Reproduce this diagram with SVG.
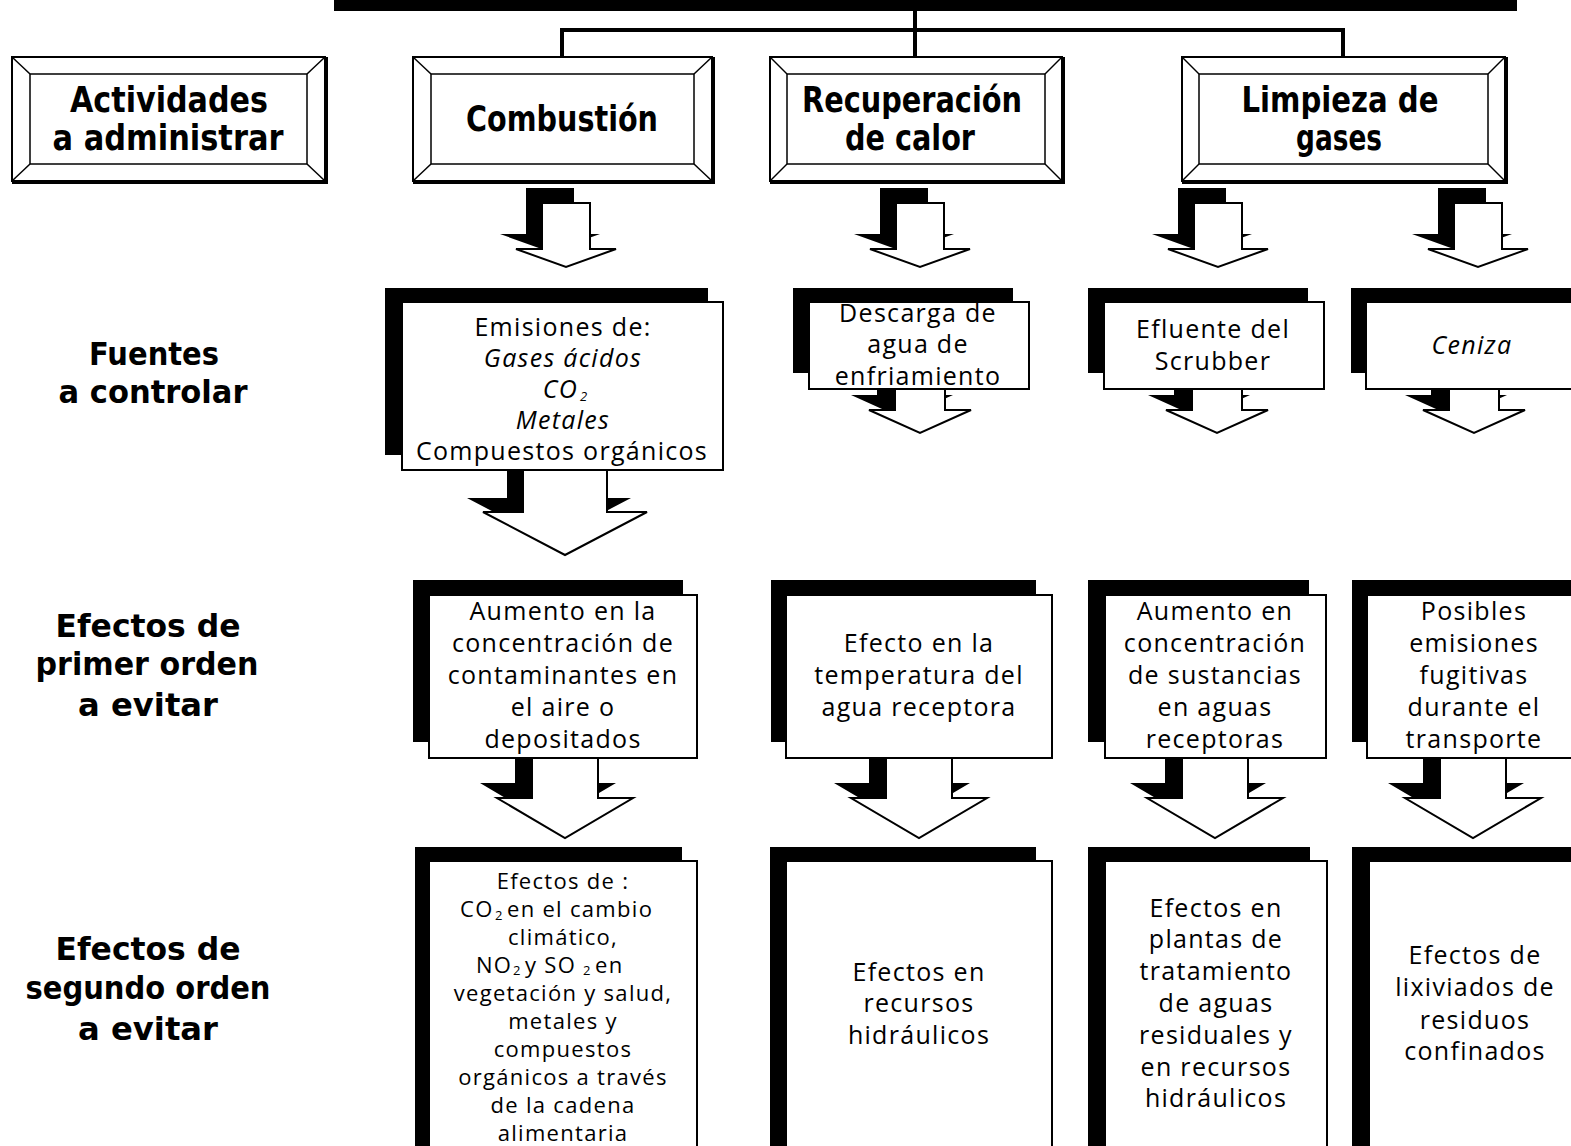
<svg xmlns="http://www.w3.org/2000/svg" width="1571" height="1146" viewBox="0 0 1571 1146">
  <defs>
    <style>
      .bevel-out { fill:#fff; stroke:#000; stroke-width:2; }
      .bevel-in { fill:none; stroke:#000; stroke-width:1.5; }
      .bevel-edge { stroke:#000; stroke-width:1.5; }
      .bevel-heavy { stroke:#000; stroke-width:4; }
      .shadow { fill:#000; }
      .card { fill:#fff; stroke:#000; stroke-width:2; }
      .arrow { fill:#fff; stroke:#000; stroke-width:2; stroke-linejoin:miter; }
      .arrow-shadow { fill:#000; }
      .conn { fill:none; stroke:#000; stroke-width:4; }
      .head { font-family:"DejaVu Sans","Noto Sans",sans-serif; font-weight:bold; font-size:36px; text-anchor:middle; fill:#000; }
      .label { font-family:"DejaVu Sans","Noto Sans",sans-serif; font-weight:bold; font-size:32px; text-anchor:middle; fill:#000; }
      .body { font-family:"Open Sans","Noto Sans","DejaVu Sans",sans-serif; font-weight:400; font-size:25px; letter-spacing:1.3px; text-anchor:middle; fill:#000; }
      .small { font-size:22px; }
      .sub { font-size:13px; letter-spacing:0; }
      .left { text-anchor:start; }
      .it { font-style:italic; }
    </style>
    <!-- block arrows, drawn from the top centre of the shaft -->
    <path id="arrowS" d="M-24,0 H24 V46 H50 L0,64 L-50,46 H-24 Z"/>
    <path id="arrowM" d="M-25,0 H25 V50 H51 L0,73 L-51,50 H-25 Z"/>
    <path id="arrowL" d="M-42,0 H42 V72 H82 L0,115 L-82,72 H-42 Z"/>
    <path id="arrowR" d="M-33,0 H33 V68 H68 L0,108 L-68,68 H-33 Z"/>
  </defs>

  <!-- tree connectors at the top -->
  <g id="connectors">
    <rect x="334" y="0" width="1183" height="11" fill="#000"/>
    <line class="conn" x1="915" y1="10" x2="915" y2="30"/>
    <polyline class="conn" points="562,57 562,30 1343,30 1343,57"/>
    <line class="conn" x1="915" y1="30" x2="915" y2="57"/>
  </g>

  <!-- left column headings -->
  <g id="hdr-actividades">
    <rect class="bevel-out" x="12" y="57" width="313" height="124"/>
    <rect class="bevel-in" x="30" y="74" width="277" height="90"/>
    <line class="bevel-edge" x1="12" y1="57" x2="30" y2="74"/>
    <line class="bevel-edge" x1="325" y1="57" x2="307" y2="74"/>
    <line class="bevel-edge" x1="12" y1="181" x2="30" y2="164"/>
    <line class="bevel-edge" x1="325" y1="181" x2="307" y2="164"/>
    <line class="bevel-heavy" x1="326" y1="57" x2="326" y2="183"/>
    <line class="bevel-heavy" x1="12" y1="182" x2="328" y2="182"/>
    <text class="head" x="169" y="112" textLength="198" lengthAdjust="spacingAndGlyphs">Actividades</text>
    <text class="head" x="168" y="150" textLength="231" lengthAdjust="spacingAndGlyphs">a administrar</text>
  </g>
  <g id="lbl-fuentes">
    <text class="label" x="154" y="365" textLength="130" lengthAdjust="spacingAndGlyphs">Fuentes</text>
    <text class="label" x="153" y="403" textLength="189" lengthAdjust="spacingAndGlyphs">a controlar</text>
  </g>
  <g id="lbl-primer">
    <text class="label" x="148" y="637" textLength="185" lengthAdjust="spacingAndGlyphs">Efectos de</text>
    <text class="label" x="147" y="675" textLength="223" lengthAdjust="spacingAndGlyphs">primer orden</text>
    <text class="label" x="148" y="716" textLength="140" lengthAdjust="spacingAndGlyphs">a evitar</text>
  </g>
  <g id="lbl-segundo">
    <text class="label" x="148" y="960" textLength="185" lengthAdjust="spacingAndGlyphs">Efectos de</text>
    <text class="label" x="148" y="999" textLength="245" lengthAdjust="spacingAndGlyphs">segundo orden</text>
    <text class="label" x="148" y="1040" textLength="140" lengthAdjust="spacingAndGlyphs">a evitar</text>
  </g>

  <!-- activity boxes -->
  <g id="act-combustion">
    <rect class="bevel-out" x="413" y="57" width="299" height="124"/>
    <rect class="bevel-in" x="431" y="74" width="263" height="90"/>
    <line class="bevel-edge" x1="413" y1="57" x2="431" y2="74"/>
    <line class="bevel-edge" x1="712" y1="57" x2="694" y2="74"/>
    <line class="bevel-edge" x1="413" y1="181" x2="431" y2="164"/>
    <line class="bevel-edge" x1="712" y1="181" x2="694" y2="164"/>
    <line class="bevel-heavy" x1="713" y1="57" x2="713" y2="183"/>
    <line class="bevel-heavy" x1="413" y1="182" x2="715" y2="182"/>
    <text class="head" x="562" y="131" textLength="192" lengthAdjust="spacingAndGlyphs">Combustión</text>
  </g>
  <g id="act-recuperacion">
    <rect class="bevel-out" x="770" y="57" width="292" height="124"/>
    <rect class="bevel-in" x="787" y="74" width="258" height="90"/>
    <line class="bevel-edge" x1="770" y1="57" x2="787" y2="74"/>
    <line class="bevel-edge" x1="1062" y1="57" x2="1045" y2="74"/>
    <line class="bevel-edge" x1="770" y1="181" x2="787" y2="164"/>
    <line class="bevel-edge" x1="1062" y1="181" x2="1045" y2="164"/>
    <line class="bevel-heavy" x1="1063" y1="57" x2="1063" y2="183"/>
    <line class="bevel-heavy" x1="770" y1="182" x2="1065" y2="182"/>
    <text class="head" x="912" y="112" textLength="220" lengthAdjust="spacingAndGlyphs">Recuperación</text>
    <text class="head" x="910" y="150" textLength="130" lengthAdjust="spacingAndGlyphs">de calor</text>
  </g>
  <g id="act-limpieza">
    <rect class="bevel-out" x="1182" y="57" width="323" height="124"/>
    <rect class="bevel-in" x="1199" y="74" width="289" height="90"/>
    <line class="bevel-edge" x1="1182" y1="57" x2="1199" y2="74"/>
    <line class="bevel-edge" x1="1505" y1="57" x2="1488" y2="74"/>
    <line class="bevel-edge" x1="1182" y1="181" x2="1199" y2="164"/>
    <line class="bevel-edge" x1="1505" y1="181" x2="1488" y2="164"/>
    <line class="bevel-heavy" x1="1506" y1="57" x2="1506" y2="183"/>
    <line class="bevel-heavy" x1="1182" y1="182" x2="1508" y2="182"/>
    <text class="head" x="1340" y="112" textLength="197" lengthAdjust="spacingAndGlyphs">Limpieza de</text>
    <text class="head" x="1339" y="150" textLength="86" lengthAdjust="spacingAndGlyphs">gases</text>
  </g>

  <!-- arrows from the activities to the sources -->
  <g id="arrows-row1">
    <use href="#arrowS" class="arrow-shadow" transform="translate(550,188)"/>
    <use href="#arrowS" class="arrow" transform="translate(566,203)"/>
    <use href="#arrowS" class="arrow-shadow" transform="translate(904,188)"/>
    <use href="#arrowS" class="arrow" transform="translate(920,203)"/>
    <use href="#arrowS" class="arrow-shadow" transform="translate(1202,188)"/>
    <use href="#arrowS" class="arrow" transform="translate(1218,203)"/>
    <use href="#arrowS" class="arrow-shadow" transform="translate(1462,188)"/>
    <use href="#arrowS" class="arrow" transform="translate(1478,203)"/>
  </g>

  <!-- arrows from the sources to first-order effects (behind the cards) -->
  <g id="arrows-row2">
    <use href="#arrowL" class="arrow-shadow" transform="translate(549,426)"/>
    <use href="#arrowL" class="arrow" transform="translate(565,440)"/>
    <use href="#arrowM" class="arrow-shadow" transform="translate(902,345)"/>
    <use href="#arrowM" class="arrow" transform="translate(920,360)"/>
    <use href="#arrowM" class="arrow-shadow" transform="translate(1199,345)"/>
    <use href="#arrowM" class="arrow" transform="translate(1217,360)"/>
    <use href="#arrowM" class="arrow-shadow" transform="translate(1456,345)"/>
    <use href="#arrowM" class="arrow" transform="translate(1474,360)"/>
  </g>

  <!-- arrows from first-order to second-order effects -->
  <g id="arrows-row3">
    <use href="#arrowR" class="arrow-shadow" transform="translate(548,715)"/>
    <use href="#arrowR" class="arrow" transform="translate(565,730)"/>
    <use href="#arrowR" class="arrow-shadow" transform="translate(902,715)"/>
    <use href="#arrowR" class="arrow" transform="translate(919,730)"/>
    <use href="#arrowR" class="arrow-shadow" transform="translate(1198,715)"/>
    <use href="#arrowR" class="arrow" transform="translate(1215,730)"/>
    <use href="#arrowR" class="arrow-shadow" transform="translate(1456,715)"/>
    <use href="#arrowR" class="arrow" transform="translate(1473,730)"/>
  </g>

  <!-- sources to control -->
  <g id="src-emisiones">
    <rect class="shadow" x="385" y="288" width="323" height="167"/>
    <rect class="card" x="402" y="302" width="321" height="168"/>
    <text class="body" x="563" y="336">Emisiones de:</text>
    <text class="body it" x="563" y="367">Gases ácidos</text>
    <text class="body it" x="578" y="398" style="text-anchor:end">CO</text>
    <text class="body it sub left" x="580" y="401">2</text>
    <text class="body it" x="563" y="429">Metales</text>
    <text class="body" x="562" y="460">Compuestos orgánicos</text>
  </g>
  <g id="src-descarga">
    <rect class="shadow" x="793" y="288" width="220" height="85"/>
    <rect class="card" x="809" y="302" width="220" height="87"/>
    <text class="body" x="918" y="322">Descarga de</text>
    <text class="body" x="918" y="353">agua de</text>
    <text class="body" x="918" y="385">enfriamiento</text>
  </g>
  <g id="src-efluente">
    <rect class="shadow" x="1088" y="288" width="220" height="85"/>
    <rect class="card" x="1104" y="302" width="220" height="87"/>
    <text class="body" x="1213" y="338">Efluente del</text>
    <text class="body" x="1213" y="370">Scrubber</text>
  </g>
  <g id="src-ceniza">
    <rect class="shadow" x="1351" y="288" width="240" height="85"/>
    <rect class="card" x="1366" y="302" width="230" height="87"/>
    <text class="body it" x="1472" y="354">Ceniza</text>
  </g>

  <!-- first-order effects -->
  <g id="e1-aire">
    <rect class="shadow" x="413" y="580" width="270" height="162"/>
    <rect class="card" x="429" y="595" width="268" height="163"/>
    <text class="body" x="563" y="620">Aumento en la</text>
    <text class="body" x="563" y="652">concentración de</text>
    <text class="body" x="563" y="684">contaminantes en</text>
    <text class="body" x="563" y="716">el aire o</text>
    <text class="body" x="563" y="748">depositados</text>
  </g>
  <g id="e1-temperatura">
    <rect class="shadow" x="771" y="580" width="265" height="162"/>
    <rect class="card" x="786" y="595" width="266" height="163"/>
    <text class="body" x="919" y="652">Efecto en la</text>
    <text class="body" x="919" y="684">temperatura del</text>
    <text class="body" x="919" y="716">agua receptora</text>
  </g>
  <g id="e1-sustancias">
    <rect class="shadow" x="1088" y="580" width="221" height="162"/>
    <rect class="card" x="1105" y="595" width="221" height="163"/>
    <text class="body" x="1215" y="620">Aumento en</text>
    <text class="body" x="1215" y="652">concentración</text>
    <text class="body" x="1215" y="684">de sustancias</text>
    <text class="body" x="1215" y="716">en aguas</text>
    <text class="body" x="1215" y="748">receptoras</text>
  </g>
  <g id="e1-fugitivas">
    <rect class="shadow" x="1352" y="580" width="240" height="162"/>
    <rect class="card" x="1367" y="595" width="230" height="163"/>
    <text class="body" x="1474" y="620">Posibles</text>
    <text class="body" x="1474" y="652">emisiones</text>
    <text class="body" x="1474" y="684">fugitivas</text>
    <text class="body" x="1474" y="716">durante el</text>
    <text class="body" x="1474" y="748">transporte</text>
  </g>

  <!-- second-order effects -->
  <g id="e2-cadena">
    <rect class="shadow" x="415" y="847" width="267" height="300"/>
    <rect class="card" x="429" y="861" width="268" height="300"/>
    <text class="body small" x="563" y="889">Efectos de :</text>
    <text class="body small left" x="460" y="917">CO</text>
    <text class="body small sub left" x="495" y="920">2</text>
    <text class="body small left" x="507" y="917">en el cambio</text>
    <text class="body small" x="563" y="945">climático,</text>
    <text class="body small left" x="476" y="973">NO</text>
    <text class="body small sub left" x="513" y="975">2</text>
    <text class="body small left" x="525" y="973">y SO</text>
    <text class="body small sub left" x="583" y="975">2</text>
    <text class="body small left" x="595" y="973">en</text>
    <text class="body small" x="563" y="1001">vegetación y salud,</text>
    <text class="body small" x="563" y="1029">metales y</text>
    <text class="body small" x="563" y="1057">compuestos</text>
    <text class="body small" x="563" y="1085">orgánicos a través</text>
    <text class="body small" x="563" y="1113">de la cadena</text>
    <text class="body small" x="563" y="1141">alimentaria</text>
  </g>
  <g id="e2-hidraulicos">
    <rect class="shadow" x="770" y="847" width="266" height="300"/>
    <rect class="card" x="786" y="861" width="266" height="300"/>
    <text class="body" x="919" y="981">Efectos en</text>
    <text class="body" x="919" y="1012">recursos</text>
    <text class="body" x="919" y="1044">hidráulicos</text>
  </g>
  <g id="e2-plantas">
    <rect class="shadow" x="1088" y="847" width="222" height="300"/>
    <rect class="card" x="1105" y="861" width="222" height="300"/>
    <text class="body" x="1216" y="917">Efectos en</text>
    <text class="body" x="1216" y="948">plantas de</text>
    <text class="body" x="1216" y="980">tratamiento</text>
    <text class="body" x="1216" y="1012">de aguas</text>
    <text class="body" x="1216" y="1044">residuales y</text>
    <text class="body" x="1216" y="1076">en recursos</text>
    <text class="body" x="1216" y="1107">hidráulicos</text>
  </g>
  <g id="e2-lixiviados">
    <rect class="shadow" x="1352" y="847" width="240" height="300"/>
    <rect class="card" x="1369" y="861" width="230" height="300"/>
    <text class="body" x="1475" y="964">Efectos de</text>
    <text class="body" x="1475" y="996">lixiviados de</text>
    <text class="body" x="1475" y="1029">residuos</text>
    <text class="body" x="1475" y="1060">confinados</text>
  </g>
</svg>
